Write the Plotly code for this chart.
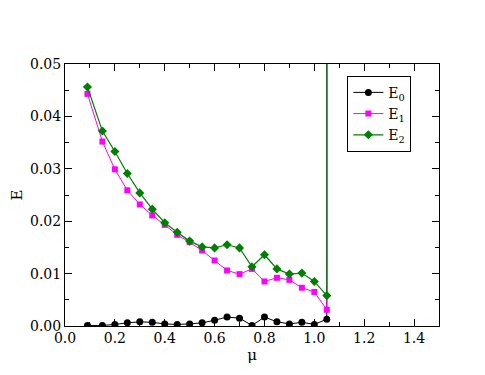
import plotly.graph_objects as go

# mu values (last point repeated: curves shoot off the top at mu = 1.05)
mu = [0.09, 0.15, 0.20, 0.25, 0.30, 0.35, 0.40, 0.45, 0.50, 0.55,
      0.60, 0.65, 0.70, 0.75, 0.80, 0.85, 0.90, 0.95, 1.00, 1.05, 1.05]

e0 = [0.0001, 0.0001, 0.0003, 0.0006, 0.0008, 0.0007, 0.0004, 0.0003, 0.0004, 0.0006,
      0.0011, 0.0017, 0.0015, 0.0001, 0.0017, 0.0008, 0.0004, 0.0007, 0.0003, 0.0013, 0.5]

e1 = [0.0443, 0.0352, 0.0299, 0.0259, 0.0232, 0.0211, 0.0193, 0.0174, 0.0160, 0.0144,
      0.0125, 0.0106, 0.0099, 0.0109, 0.0085, 0.0092, 0.0088, 0.0073, 0.0065, 0.0031, 0.5]

e2 = [0.0456, 0.0372, 0.0333, 0.0291, 0.0254, 0.0223, 0.0197, 0.0179, 0.0162, 0.0151,
      0.0149, 0.0155, 0.0149, 0.0113, 0.0136, 0.0109, 0.0099, 0.0101, 0.0085, 0.0058, 0.5]

serif = "DejaVu Serif"

fig = go.Figure()

fig.add_trace(go.Scatter(
    x=mu, y=e0, mode='lines+markers', name='E<sub>0</sub>',
    line=dict(color='black', width=1, simplify=False),
    marker=dict(color='black', size=7, symbol='circle')
))
fig.add_trace(go.Scatter(
    x=mu, y=e1, mode='lines+markers', name='E<sub>1</sub>',
    line=dict(color='#ff00ff', width=1, simplify=False),
    marker=dict(color='#ff00ff', size=6, symbol='square')
))
fig.add_trace(go.Scatter(
    x=mu, y=e2, mode='lines+markers', name='E<sub>2</sub>',
    line=dict(color='#008000', width=1.2, simplify=False),
    marker=dict(color='#008000', size=7, symbol='diamond')
))

axis_common = dict(
    showline=True, linecolor='black', linewidth=1, mirror='ticks',
    ticks='inside', ticklen=7, tickcolor='black', showgrid=False, zeroline=False,
    automargin=False,
    tickfont=dict(family=serif, size=14, color='black'),
)

fig.update_layout(
    width=485, height=375,
    margin=dict(l=57, r=54, t=56, b=57),
    plot_bgcolor='white', paper_bgcolor='white',
    font=dict(family=serif, color='black'),
    showlegend=True,
    legend=dict(
        x=0.755, y=0.955, xanchor='left', yanchor='top',
        bordercolor='black', borderwidth=1, bgcolor='white',
        font=dict(family=serif, size=14, color='black'),
        itemwidth=30, tracegroupgap=0
    ),
    xaxis=dict(
        range=[0, 1.5], dtick=0.2, tickformat='.1f', ticklabelstandoff=-1,
        minor=dict(ticks='inside', ticklen=4, dtick=0.1, tickcolor='black'),
        title=dict(text='μ', font=dict(family=serif, size=15, color='black'), standoff=0),
        **axis_common
    ),
    yaxis=dict(
        range=[0, 0.05], dtick=0.01, tickformat='.2f',
        minor=dict(ticks='inside', ticklen=4, dtick=0.005, tickcolor='black'),
        title=dict(text='E', font=dict(family=serif, size=15, color='black'), standoff=4),
        **axis_common
    ),
)

fig.write_html("out.html")
